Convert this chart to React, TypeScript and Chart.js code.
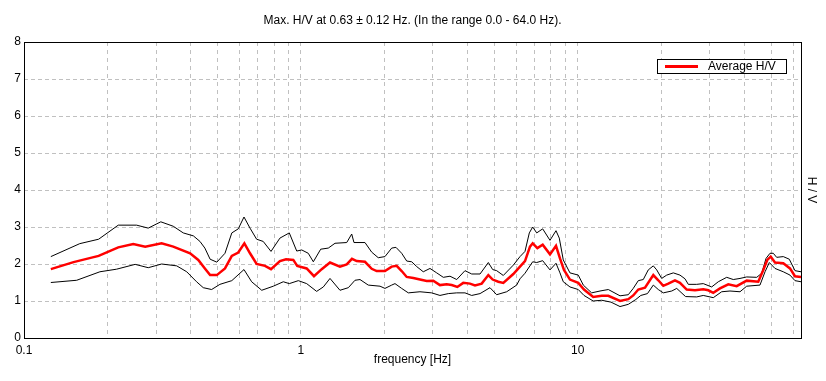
import React, { useEffect, useRef } from 'react';
import { Chart, registerables } from 'chart.js';

Chart.register(...registerables);

const TITLE = 'Max. H/V at 0.63 \u00b1 0.12 Hz. (In the range 0.0 - 64.0 Hz).';
const X_TITLE = 'frequency [Hz]';
const Y_TITLE = 'H / V';
const LEGEND_LABEL = 'Average H/V';

const X_MIN = 0.1;
const X_MAX = 64;
const Y_MIN = 0;
const Y_MAX = 8;

const X_GRID_TICKS = [
  0.1, 0.2, 0.3, 0.4, 0.5, 0.6, 0.7, 0.8, 0.9,
  1, 2, 3, 4, 5, 6, 7, 8, 9,
  10, 20, 30, 40, 50, 60,
];
const X_LABELED_TICKS = [0.1, 1, 10];

const AVG_FREQ = [
  0.125, 0.151, 0.186, 0.219, 0.248, 0.274, 0.314, 0.346, 0.398, 0.426, 0.45, 0.47, 0.497, 0.532, 0.563,
  0.594, 0.625, 0.655, 0.692, 0.742, 0.78, 0.84, 0.884, 0.939, 0.97, 1.049, 1.115, 1.189, 1.274, 1.384,
  1.464, 1.529, 1.591, 1.704, 1.802, 1.878, 2.012, 2.128, 2.218, 2.312, 2.411, 2.547, 2.692, 2.847, 3.007,
  3.179, 3.361, 3.505, 3.672, 3.859, 4.08, 4.255, 4.498, 4.753, 4.928, 5.163, 5.383, 5.85, 6.185, 6.447,
  6.721, 6.874, 7.147, 7.469, 7.937, 8.343, 8.624, 8.916, 9.371, 10.04, 10.53, 11.37, 12.2, 12.89, 14.21,
  15.22, 15.86, 16.54, 17.49, 18.74, 19.53, 20.36, 21.23, 22.44, 23.39, 24.74, 26.5, 28.39, 29.6, 30.86,
  32.63, 34.96, 37.49, 40.74, 44.86, 46.78, 48.35, 49.74, 51.56, 55.23, 58.4, 60.87, 64,
];
const AVG_HV = [
  1.86, 2.05, 2.22, 2.45, 2.54, 2.47, 2.56, 2.47, 2.29, 2.11, 1.88, 1.7, 1.7, 1.88, 2.22,
  2.31, 2.56, 2.29, 2.0, 1.95, 1.86, 2.08, 2.13, 2.11, 1.95, 1.88, 1.67, 1.86, 2.04, 1.93,
  1.99, 2.14, 2.08, 2.06, 1.87, 1.81, 1.81, 1.93, 1.95, 1.81, 1.65, 1.62, 1.58, 1.54, 1.55,
  1.43, 1.45, 1.43, 1.38, 1.49, 1.47, 1.42, 1.47, 1.7, 1.58, 1.52, 1.49, 1.73, 1.93, 2.08,
  2.47, 2.56, 2.43, 2.52, 2.26, 2.49, 2.15, 1.84, 1.58, 1.49, 1.31, 1.11, 1.14, 1.14, 1.0,
  1.05, 1.15, 1.31, 1.36, 1.7, 1.56, 1.41, 1.47, 1.56, 1.49, 1.31, 1.29, 1.32, 1.29, 1.22,
  1.34, 1.45, 1.4, 1.55, 1.52, 1.84, 2.11, 2.2, 2.04, 2.02, 1.88, 1.67, 1.65,
];

const UPPER_FREQ = [
  0.125, 0.159, 0.186, 0.219, 0.255, 0.281, 0.312, 0.346, 0.376, 0.409, 0.432, 0.45, 0.47, 0.497, 0.532,
  0.563, 0.594, 0.623, 0.655, 0.692, 0.731, 0.78, 0.84, 0.908, 0.966, 1.007, 1.063, 1.109, 1.179, 1.256,
  1.328, 1.464, 1.526, 1.555, 1.704, 1.802, 1.903, 2.012, 2.128, 2.205, 2.312, 2.411, 2.513, 2.62, 2.767,
  2.926, 3.094, 3.269, 3.456, 3.654, 3.914, 4.139, 4.436, 4.753, 4.928, 5.094, 5.383, 5.85, 6.185, 6.447,
  6.683, 6.874, 7.107, 7.469, 7.937, 8.343, 8.575, 8.864, 9.371, 10.04, 10.47, 11.22, 12.03, 12.89, 14.21,
  15.22, 15.86, 16.54, 17.24, 17.97, 18.74, 19.28, 20.09, 20.95, 22.13, 23.39, 24.39, 25.07, 26.88, 28.39,
  30.45, 32.17, 34.5, 36.45, 38.54, 40.74, 44.28, 46.16, 47.85, 49.46, 50.82, 52.28, 55.23, 58.05, 60.87, 64,
];
const UPPER_HV = [
  2.2, 2.55, 2.67, 3.05, 3.05, 2.97, 3.14, 3.02, 2.84, 2.76, 2.61, 2.43, 2.13, 2.05, 2.29,
  2.84, 2.95, 3.27, 2.97, 2.67, 2.61, 2.34, 2.7, 2.84, 2.35, 2.38, 2.29, 2.06, 2.4, 2.43,
  2.56, 2.58, 2.81, 2.58, 2.58, 2.32, 2.17, 2.2, 2.43, 2.45, 2.29, 2.08, 2.06, 1.93, 1.79,
  1.88, 1.76, 1.64, 1.67, 1.58, 1.82, 1.73, 1.73, 2.04, 1.85, 1.82, 1.69, 1.97, 2.2, 2.34,
  2.84, 3.0, 2.84, 2.95, 2.64, 2.9, 2.7, 2.11, 1.76, 1.7, 1.43, 1.22, 1.27, 1.31, 1.14,
  1.17, 1.34, 1.55, 1.58, 1.84, 1.95, 1.84, 1.61, 1.7, 1.76, 1.7, 1.6, 1.45, 1.45, 1.47,
  1.38, 1.52, 1.64, 1.58, 1.61, 1.65, 1.64, 1.75, 2.15, 2.29, 2.29, 2.18, 2.2, 2.13, 1.82, 1.79,
];

const LOWER_FREQ = [
  0.125, 0.155, 0.188, 0.216, 0.252, 0.281, 0.314, 0.356, 0.387, 0.42, 0.444, 0.476, 0.51, 0.563, 0.623,
  0.664, 0.722, 0.795, 0.864, 0.908, 0.979, 1.049, 1.14, 1.205, 1.274, 1.384, 1.484, 1.568, 1.635, 1.751,
  1.931, 2.012, 2.128, 2.187, 2.312, 2.443, 2.692, 2.968, 3.179, 3.407, 3.654, 3.914, 4.139, 4.436, 4.819,
  5.094, 5.537, 6.016, 6.185, 6.447, 6.874, 7.107, 7.469, 7.937, 8.343, 8.624, 8.864, 9.371, 10.04, 10.53,
  11.37, 12.2, 13.18, 14.21, 15.22, 16.2, 16.89, 17.85, 18.74, 19.53, 20.36, 21.85, 22.77, 24.5, 26.88,
  28.39, 30.86, 33.09, 35.46, 38.54, 40.74, 45.5, 47.46, 49.18, 51.56, 55.23, 58.4, 60.87, 64,
];
const LOWER_HV = [
  1.5, 1.56, 1.79, 1.86, 1.99, 1.9, 2.0, 1.95, 1.79, 1.52, 1.36, 1.31, 1.45, 1.55, 1.85,
  1.52, 1.29, 1.4, 1.52, 1.47, 1.55, 1.47, 1.26, 1.38, 1.61, 1.29, 1.36, 1.56, 1.58, 1.43,
  1.4, 1.34, 1.43, 1.47, 1.34, 1.22, 1.25, 1.22, 1.15, 1.2, 1.22, 1.22, 1.15, 1.2, 1.36,
  1.17, 1.25, 1.43, 1.6, 1.75, 2.06, 2.04, 2.09, 1.84, 2.02, 1.76, 1.52, 1.38, 1.31, 1.15,
  1.0, 1.02, 0.97, 0.85, 0.91, 1.04, 1.15, 1.2, 1.43, 1.31, 1.22, 1.27, 1.34, 1.12, 1.11,
  1.15, 1.09, 1.25, 1.27, 1.25, 1.4, 1.43, 1.79, 2.04, 1.88, 1.79, 1.7, 1.55, 1.52,
];

const FONT_FAMILY = '"Liberation Sans", Arial, sans-serif';
const GRID_COLOR = '#c0c0c0';

const zip = (xs: number[], ys: number[]) => xs.map((x, i) => ({ x, y: ys[i] }));

const framePlugin = {
  id: 'hvFrame',
  afterDraw(chart: any) {
    const { ctx, chartArea: a } = chart;
    ctx.save();
    ctx.setLineDash([]);
    ctx.strokeStyle = '#000';
    ctx.lineWidth = 1;
    ctx.strokeRect(a.left + 0.5, a.top + 0.5, a.right - a.left, a.bottom - a.top);

    ctx.fillStyle = '#000';
    ctx.font = `12px ${FONT_FAMILY}`;
    ctx.textAlign = 'center';
    ctx.textBaseline = 'middle';
    ctx.fillText(TITLE, (a.left + a.right) / 2, 21);

    ctx.save();
    ctx.translate(a.right + 10, (a.top + a.bottom) / 2);
    ctx.rotate(Math.PI / 2);
    ctx.fillText(Y_TITLE, 0, 0);
    ctx.restore();

    const ds = chart.data.datasets[0];
    const bw = 129;
    const bh = 14;
    const bx = a.right - 15 - bw;
    const by = a.top + 17;
    ctx.fillStyle = '#fff';
    ctx.fillRect(bx + 0.5, by + 0.5, bw, bh);
    ctx.strokeStyle = '#000';
    ctx.strokeRect(bx + 0.5, by + 0.5, bw, bh);
    ctx.strokeStyle = ds.borderColor;
    ctx.lineWidth = 3;
    ctx.beginPath();
    ctx.moveTo(bx + 8, by + 7.5);
    ctx.lineTo(bx + 41, by + 7.5);
    ctx.stroke();
    ctx.fillStyle = '#000';
    ctx.textAlign = 'left';
    ctx.fillText(ds.label, bx + 51, by + 8);
    ctx.restore();
  },
};

export default function App() {
  const ref = useRef<HTMLCanvasElement>(null);

  useEffect(() => {
    document.body.style.margin = '0';
    const canvas = ref.current;
    if (!canvas) return;
    const chart = new Chart(canvas, {
      type: 'line',
      data: {
        datasets: [
          {
            label: LEGEND_LABEL,
            data: zip(AVG_FREQ, AVG_HV),
            borderColor: '#ff0000',
            borderWidth: 2.5,
            pointRadius: 0,
            tension: 0,
            fill: false,
          },
          {
            label: 'Upper',
            data: zip(UPPER_FREQ, UPPER_HV),
            borderColor: '#000000',
            borderWidth: 1,
            pointRadius: 0,
            tension: 0,
            fill: false,
          },
          {
            label: 'Lower',
            data: zip(LOWER_FREQ, LOWER_HV),
            borderColor: '#000000',
            borderWidth: 1,
            pointRadius: 0,
            tension: 0,
            fill: false,
          },
        ],
      },
      options: {
        responsive: false,
        animation: false,
        devicePixelRatio: 1,
        layout: { padding: { top: 42, right: 25, left: 0, bottom: 0 } },
        plugins: {
          legend: { display: false },
          title: { display: false },
          tooltip: { enabled: false },
        },
        scales: {
          x: {
            type: 'logarithmic',
            min: X_MIN,
            max: X_MAX,
            afterBuildTicks: (scale: any) => {
              scale.ticks = X_GRID_TICKS.map((v) => ({ value: v }));
            },
            afterFit: (scale: any) => {
              scale.height = 43;
            },
            grid: { color: GRID_COLOR, lineWidth: 1, drawTicks: false },
            border: { display: false, dash: [4, 4] },
            ticks: {
              autoSkip: false,
              maxRotation: 0,
              minRotation: 0,
              padding: 5,
              color: '#000',
              font: { family: FONT_FAMILY, size: 12 },
              callback: (value: any) => (X_LABELED_TICKS.includes(Number(value)) ? String(value) : ''),
            },
            title: {
              display: true,
              text: X_TITLE,
              color: '#000',
              font: { family: FONT_FAMILY, size: 12 },
              padding: { top: 0, bottom: 14 },
            },
          },
          y: {
            type: 'linear',
            min: Y_MIN,
            max: Y_MAX,
            afterFit: (scale: any) => {
              scale.width = 24;
            },
            grid: { color: GRID_COLOR, lineWidth: 1, drawTicks: false },
            border: { display: false, dash: [4, 3] },
            ticks: {
              stepSize: 1,
              padding: 3,
              color: '#000',
              font: { family: FONT_FAMILY, size: 12 },
            },
          },
        },
      },
      plugins: [framePlugin],
    } as any);
    return () => chart.destroy();
  }, []);

  return (
    <div style={{ width: 826, height: 381 }}>
      <canvas ref={ref} width={826} height={381} style={{ display: 'block', width: 826, height: 381 }} />
    </div>
  );
}
